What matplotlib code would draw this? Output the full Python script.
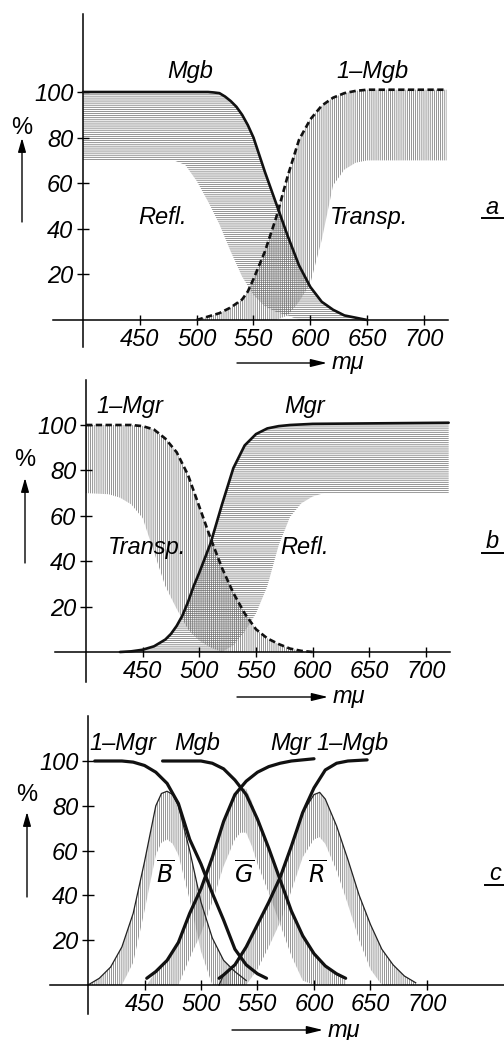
# Dichroic mirror curves (Mgb / Mgr) and the resulting B, G, R channels
# three stacked panels a, b, c in the style of an old printed figure

import matplotlib.pyplot as plt
from matplotlib.patches import FancyArrowPatch
from matplotlib.lines import Line2D

plt.rcParams['font.family'] = ['Liberation Sans Narrow', 'Liberation Sans', 'DejaVu Sans']
plt.rcParams['font.style'] = 'italic'
plt.rcParams['mathtext.fontset'] = 'custom'
plt.rcParams['mathtext.it'] = 'Liberation Sans Narrow:italic'
plt.rcParams['mathtext.rm'] = 'Liberation Sans Narrow:italic'
plt.rcParams['hatch.linewidth'] = 0.5

# ---- data (wavelength in m-mu, value in %) ----
X_TICKS = [450, 500, 550, 600, 650, 700]
Y_TICKS = [20, 40, 60, 80, 100]

# panel a : blue mirror
mgb_a_x = [400, 450, 490, 500, 510, 515, 520, 525, 530, 535, 540, 545, 550, 560, 570, 580, 590, 600, 610, 620, 630, 640, 650]
mgb_a_y = [100, 100, 100, 100, 100, 99.8, 99.5, 98, 96, 93.5, 90, 85.5, 80, 65, 51, 37, 24, 14.5, 8, 4.5, 2, 1, 0]
inv_mgb_a_x = [500, 510, 520, 530, 540, 545, 550, 555, 560, 570, 580, 590, 600, 610, 620, 630, 640, 650, 720]
inv_mgb_a_y = [0, 1.5, 3, 5.5, 9, 12.5, 18, 24, 30, 45, 63, 79, 88, 94, 97.5, 99.5, 100.5, 101, 101]
refl_lo_a_x = [400, 480, 490, 500, 510, 520, 530, 540, 550, 560, 570, 580, 590]
refl_lo_a_y = [70, 70, 68, 61, 52, 42, 30, 19, 11, 6, 3.5, 2, 0]
transp_lo_a_x = [570, 580, 590, 600, 610, 620, 630, 640, 650, 720]
transp_lo_a_y = [0, 2, 8, 16, 35, 59, 66, 69, 70, 70]

# panel b : red mirror
inv_mgr_b_x = [400, 440, 450, 460, 470, 480, 490, 500, 510, 520, 530, 540, 550, 560, 570, 580, 590, 600]
inv_mgr_b_y = [100, 100, 99.5, 98, 94, 88, 78, 64, 50, 37, 26, 17, 10, 6, 3.5, 1.5, 0.5, 0]
mgr_b_x = [430, 440, 450, 460, 470, 475, 480, 485, 490, 495, 500, 510, 520, 530, 540, 550, 560, 570, 580, 600, 720]
mgr_b_y = [0, 0.3, 1, 2.5, 5.5, 8, 11.5, 16, 22, 29, 35, 48, 65, 81, 91, 96, 98.5, 99.5, 100, 100.5, 101]
transp_lo_b_x = [400, 420, 430, 440, 450, 460, 470, 480, 490, 500, 510, 520]
transp_lo_b_y = [70, 69.5, 68, 65, 59, 44, 29, 19, 10, 5, 2, 0]
refl_lo_b_x = [520, 530, 540, 550, 560, 570, 580, 590, 600, 610, 720]
refl_lo_b_y = [0, 3, 9, 17, 29, 47, 59.5, 65.5, 68.5, 70, 70]

# panel c : both mirrors and the three channels
inv_mgr_c_x = [406, 420, 430, 440, 450, 460, 470, 480, 490, 500, 510, 520, 530, 540, 550, 558]
inv_mgr_c_y = [100, 100, 100, 99.5, 98, 95, 90, 81, 65, 54, 41, 29, 16, 9, 5, 3]
mgb_c_x = [466, 480, 490, 500, 510, 520, 530, 540, 550, 560, 570, 580, 590, 600, 610, 620, 628]
mgb_c_y = [100, 100, 100, 100, 99, 96.5, 91.5, 85, 74, 61, 47, 33, 22, 14, 8.5, 5, 3]
mgr_c_x = [452, 460, 470, 480, 490, 500, 510, 520, 530, 540, 550, 560, 570, 580, 590, 600]
mgr_c_y = [3, 6, 11, 19, 32, 43, 57, 73, 85, 91, 95, 97.5, 99, 100, 100.5, 101]
inv_mgb_c_x = [516, 520, 530, 540, 550, 560, 570, 580, 590, 600, 610, 620, 630, 647]
inv_mgb_c_y = [3, 4.5, 9, 17, 27, 37, 48, 62, 77, 88, 96, 99, 100, 100.5]

b_x = [400, 410, 420, 430, 440, 450, 460, 465, 470, 475, 480, 490, 500, 510, 520, 530, 540]
b_out = [0, 3, 8, 17, 32, 55, 80, 85.5, 86.5, 85, 80, 60, 37, 21, 11, 6, 2]
b_in = [0, 0, 0, 0, 10, 33, 58, 63.5, 65, 63, 58, 38, 15, 0, 0, 0, 0]
g_x = [452, 460, 470, 480, 490, 500, 510, 520, 530, 535, 540, 545, 550, 560, 570, 580, 590, 600, 610, 620, 628]
g_out = [0, 6, 11, 19, 32, 43, 57, 73, 85, 88, 87.5, 82, 74, 61, 47, 33, 22, 14, 8.5, 5, 2]
g_in = [0, 0, 0, 0, 12, 23, 37, 53, 65, 68, 68, 62, 54, 41, 27, 13, 2, 0, 0, 0, 0]
r_x = [516, 520, 530, 540, 550, 560, 570, 580, 590, 600, 605, 610, 620, 630, 640, 650, 660, 670, 680, 690]
r_out = [0, 4.5, 9, 17, 27, 37, 48, 62, 77, 85, 86, 83, 71, 56, 40, 27, 16, 9, 4, 1]
r_in = [0, 0, 0, 0, 7, 17, 28, 42, 57, 65, 66, 63, 51, 36, 20, 7, 0, 0, 0, 0]

W, H = 504, 1040
HATCH_COL = '#6a6a6a'
FS = 17

fig = plt.figure(figsize=(W / 100, H / 100), dpi=100)
fig.patch.set_facecolor('white')


def fpos(x, y):
    # pixel position -> figure fraction
    return x / W, 1 - y / H


def make_panel(px400, px700, py0, py100, xbounds, ybounds):
    xlim = (360, 770)
    ylim = (-20, 140)
    sx = (px700 - px400) / 300
    sy = (py0 - py100) / 100
    left = px400 + (xlim[0] - 400) * sx
    right = px400 + (xlim[1] - 400) * sx
    top = py0 - ylim[1] * sy
    bottom = py0 - ylim[0] * sy
    ax = fig.add_axes([left / W, 1 - bottom / H, (right - left) / W, (bottom - top) / H])
    ax.set_xlim(xlim)
    ax.set_ylim(ylim)
    ax.patch.set_visible(False)
    for s in ['top', 'right']:
        ax.spines[s].set_visible(False)
    ax.spines['left'].set_position(('data', 400))
    ax.spines['bottom'].set_position(('data', 0))
    ax.spines['left'].set_bounds(*ybounds)
    ax.spines['bottom'].set_bounds(*xbounds)
    ax.spines['left'].set_linewidth(1.1)
    ax.spines['bottom'].set_linewidth(1.1)
    ax.set_xticks(X_TICKS)
    ax.set_yticks(Y_TICKS)
    ax.tick_params(axis='x', direction='inout', length=7, width=1, pad=2, labelsize=FS)
    ax.tick_params(axis='y', direction='inout', length=8, width=1, pad=3, labelsize=FS)
    return ax


def hatch_between(ax, xu, yu, xl, yl, hatch):
    xs = list(xu) + list(xl)[::-1]
    ys = list(yu) + list(yl)[::-1]
    ax.fill(xs, ys, facecolor='none', edgecolor=HATCH_COL, hatch=hatch, linewidth=0, zorder=1)


def decorations(pct_xy, arrow_x, arrow_y0, arrow_y1, mu_y, mu_x0, mu_x1, tag, tag_xy):
    fig.text(*fpos(*pct_xy), '%', fontsize=FS, ha='center', va='center', style='normal')
    fig.add_artist(FancyArrowPatch(fpos(arrow_x, arrow_y0), fpos(arrow_x, arrow_y1),
                                   transform=fig.transFigure, arrowstyle='-|>,head_length=0.6,head_width=0.17',
                                   mutation_scale=14, lw=1, color='k', shrinkA=0, shrinkB=0))
    fig.add_artist(FancyArrowPatch(fpos(mu_x0, mu_y), fpos(mu_x1, mu_y),
                                   transform=fig.transFigure, arrowstyle='-|>,head_length=0.7,head_width=0.17',
                                   mutation_scale=14, lw=1, color='k', shrinkA=0, shrinkB=0))
    fig.text(*fpos(mu_x1 + 5, mu_y), 'mμ', fontsize=FS, ha='left', va='center')
    fig.text(*fpos(*tag_xy), tag, fontsize=FS, ha='center', va='center')
    fig.add_artist(Line2D([(tag_xy[0] - 10) / W, (tag_xy[0] + 12) / W],
                          [1 - (tag_xy[1] + 11) / H] * 2, transform=fig.transFigure, lw=1.4, color='k'))


LW = 1.9
DASH = (2.4, 1.3)

# ---- panel a ----
ax_a = make_panel(83, 424, 320, 92, (374, 721), (-12, 134))
hatch_between(ax_a, mgb_a_x, mgb_a_y, refl_lo_a_x, refl_lo_a_y, '--------')
hatch_between(ax_a, inv_mgb_a_x, inv_mgb_a_y, transp_lo_a_x, transp_lo_a_y, '||||||||')
ax_a.plot(mgb_a_x, mgb_a_y, color='#111111', lw=LW, zorder=3, solid_capstyle='round')
ax_a.plot(inv_mgb_a_x, inv_mgb_a_y, color='#111111', lw=LW, dashes=DASH, zorder=3)
ax_a.text(494, 109, 'Mgb', fontsize=FS, ha='center', va='center')
ax_a.text(655, 109, '1–Mgb', fontsize=FS, ha='center', va='center')
ax_a.text(470, 45, 'Refl.', fontsize=FS, ha='center', va='center')
ax_a.text(652, 45, 'Transp.', fontsize=FS, ha='center', va='center')
decorations((22, 128), 22, 222, 138, 363, 237, 327, 'a', (492, 207))

# ---- panel b ----
ax_b = make_panel(86, 426, 652, 425, (373, 721), (-13, 120))
hatch_between(ax_b, inv_mgr_b_x, inv_mgr_b_y, transp_lo_b_x, transp_lo_b_y, '||||||||')
hatch_between(ax_b, mgr_b_x, mgr_b_y, refl_lo_b_x, refl_lo_b_y, '--------')
ax_b.plot(mgr_b_x, mgr_b_y, color='#111111', lw=LW, zorder=3, solid_capstyle='round')
ax_b.plot(inv_mgr_b_x, inv_mgr_b_y, color='#111111', lw=LW, dashes=DASH, zorder=3)
ax_b.text(439, 108, '1–Mgr', fontsize=FS, ha='center', va='center')
ax_b.text(593, 108, 'Mgr', fontsize=FS, ha='center', va='center')
ax_b.text(454, 46, 'Transp.', fontsize=FS, ha='center', va='center')
ax_b.text(593, 46, 'Refl.', fontsize=FS, ha='center', va='center')
decorations((25, 460), 25, 563, 478, 697, 237, 328, 'b', (492, 542))

# ---- panel c ----
ax_c = make_panel(88, 427, 985, 761, (366, 770), (-13, 120))
hatch_between(ax_c, b_x, b_out, b_x, b_in, '||||||||')
hatch_between(ax_c, g_x, g_out, g_x, g_in, '||||||||')
hatch_between(ax_c, r_x, r_out, r_x, r_in, '||||||||')
ax_c.plot(b_x, b_out, color='#222222', lw=0.9, zorder=2)
ax_c.plot(r_x, r_out, color='#222222', lw=0.9, zorder=2)
for xs, ys in [(inv_mgr_c_x, inv_mgr_c_y), (mgb_c_x, mgb_c_y),
               (mgr_c_x, mgr_c_y), (inv_mgb_c_x, inv_mgb_c_y)]:
    ax_c.plot(xs, ys, color='#111111', lw=2.3, zorder=3, solid_capstyle='round')
ax_c.text(431, 108, '1–Mgr', fontsize=FS, ha='center', va='center')
ax_c.text(497, 108, 'Mgb', fontsize=FS, ha='center', va='center')
ax_c.text(579, 108, 'Mgr', fontsize=FS, ha='center', va='center')
ax_c.text(634, 108, '1–Mgb', fontsize=FS, ha='center', va='center')
ax_c.text(468, 49, r'$\overline{B}$', fontsize=FS, ha='center', va='center')
ax_c.text(538, 49, r'$\overline{G}$', fontsize=FS, ha='center', va='center')
ax_c.text(603, 49, r'$\overline{R}$', fontsize=FS, ha='center', va='center')
decorations((27, 795), 27, 897, 812, 1030, 232, 323, 'c', (495, 874))

fig.savefig('out.png', dpi=100)
